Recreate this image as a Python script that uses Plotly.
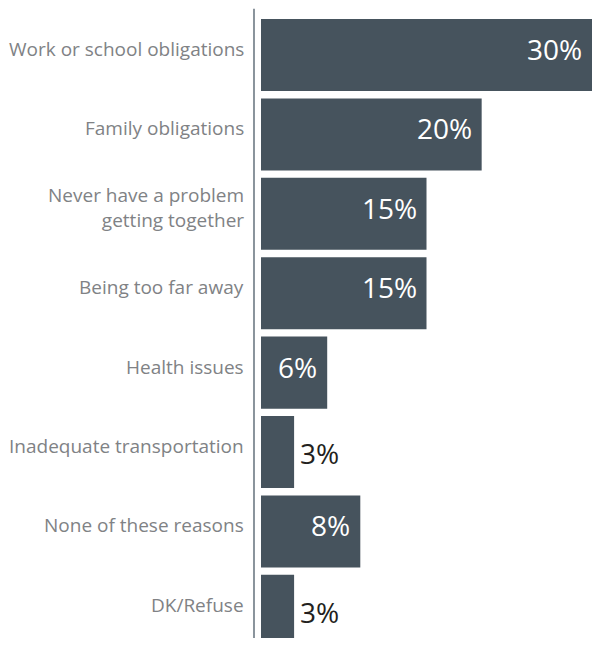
import plotly.graph_objects as go

# reasons for not getting together more often
categories = [
    "Work or school obligations",
    "Family obligations",
    "Never have a problem<br>getting together",
    "Being too far away",
    "Health issues",
    "Inadequate transportation",
    "None of these reasons",
    "DK/Refuse",
]
values = [30, 20, 15, 15, 6, 3, 9, 3]
labels = ["30%", "20%", "15%", "15%", "6%", "3%", "8%", "3%"]

bar_color = "#46535d"
label_grey = "#808285"

fig = go.Figure()
fig.add_trace(go.Bar(
    y=categories,
    x=values,
    orientation="h",
    marker=dict(color=bar_color, line=dict(width=0)),
    hoverinfo="skip",
))

# category names, sitting a little above the bar centre
for cat in categories:
    fig.add_annotation(x=0, xref="paper", y=cat, yref="y",
                       text=cat, showarrow=False, xanchor="right", align="right",
                       xshift=-9, yshift=6,
                       font=dict(size=19, color=label_grey, family="Open Sans"))

# value labels: white inside the long bars, dark just past the short ones
for cat, v, t in zip(categories, values, labels):
    if v < 5:
        fig.add_annotation(x=v, y=cat, text=t, showarrow=False,
                           xanchor="left", xshift=4, yshift=-1,
                           font=dict(size=28, color="#231f20", family="Open Sans"))
    else:
        fig.add_annotation(x=v, y=cat, text=t, showarrow=False,
                           xanchor="right", xshift=-8, yshift=6,
                           font=dict(size=28, color="white", family="Open Sans"))

# vertical axis line to the left of the bars
fig.add_shape(type="line", xref="paper", yref="paper",
              x0=-0.003, x1=-0.003, y0=-0.01, y1=1.01,
              line=dict(color="#8a949c", width=2))

fig.update_layout(
    width=584, height=630,
    margin=dict(l=247, r=0, t=7, b=0),
    plot_bgcolor="white",
    paper_bgcolor="white",
    bargap=0.093,
    showlegend=False,
    font=dict(family="Open Sans", color=label_grey),
    xaxis=dict(range=[-0.544, 30.0], visible=False, fixedrange=True),
    yaxis=dict(
        range=[7.342, -0.504], automargin=False,
        showgrid=False, zeroline=False, showline=False,
        showticklabels=False, ticks="",
    ),
)

fig.write_html("out.html")
